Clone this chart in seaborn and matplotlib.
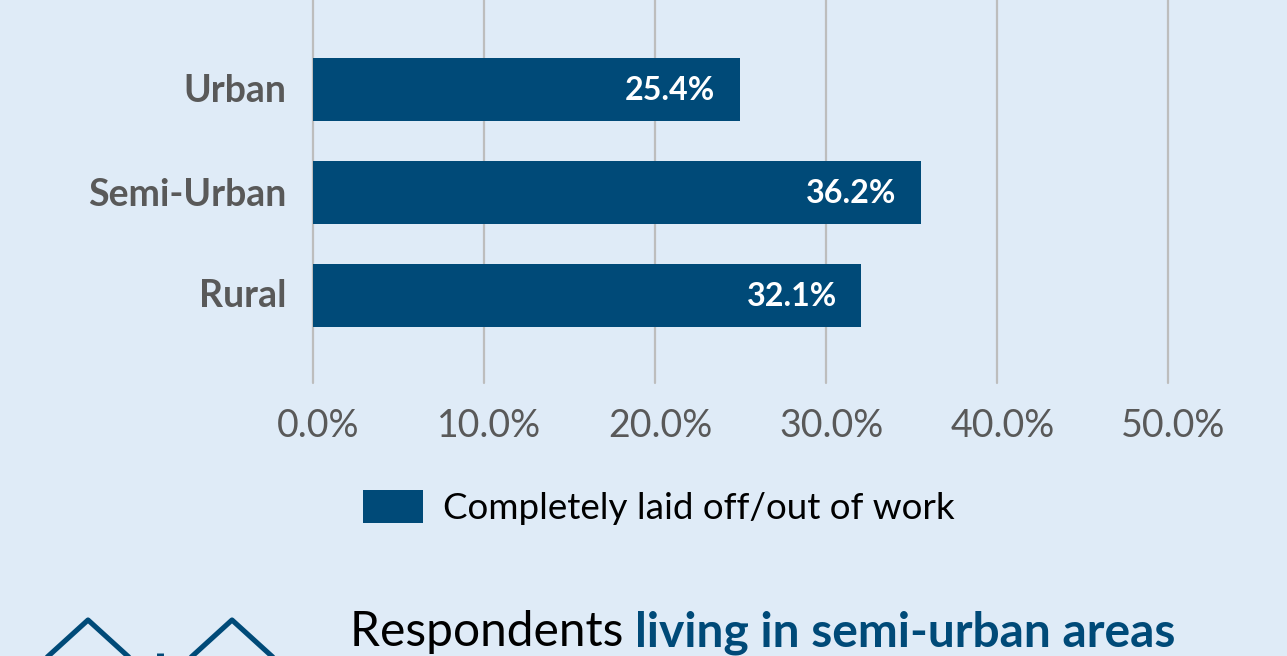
import matplotlib
matplotlib.use("Agg")
import matplotlib.pyplot as plt
from matplotlib.transforms import ScaledTranslation
import pandas as pd
import seaborn as sns

categories = ["Urban", "Semi-Urban", "Rural"]
values = [25.0, 35.6, 32.1]
value_labels = ["25.4%", "36.2%", "32.1%"]
ticks = [0, 10, 20, 30, 40, 50]
tick_labels = ["0.0%", "10.0%", "20.0%", "30.0%", "40.0%", "50.0%"]
legend_label = "Completely laid off/out of work"

BG = "#DFEBF7"
NAVY = "#004A78"
W, H = 1287, 656
sns.set_theme(style="white")
plt.rcParams["font.family"] = ["Lato", "DejaVu Sans"]
fig = plt.figure(figsize=(W / 100, H / 100), dpi=100, facecolor=BG)
x0, x1 = 312.5, 1167.5
ytop, ybot = 0, 383
ax = fig.add_axes([x0 / W, 1 - ybot / H, (x1 - x0) / W, (ybot - ytop) / H], facecolor=BG)
df = pd.DataFrame({"cat": categories, "val": values})
sns.barplot(data=df, y="cat", x="val", color=NAVY, saturation=1, width=0.612, linewidth=0, ax=ax, zorder=3)
ax.set_xlim(0, 50)
ax.set_ylim(2.85, -0.869)
ax.set_xlabel("")
ax.set_ylabel("")
ax.set_xticks(ticks, tick_labels)
ax.grid(axis="x", color="#BDBDBD", lw=1.6, zorder=0)
ax.grid(axis="y", visible=False)
for line in ax.get_xgridlines():
    line.set_clip_on(False)
for s in ax.spines.values():
    s.set_visible(False)
ax.tick_params(axis="x", length=0, labelsize=27, labelcolor="#595959", pad=18)
ax.tick_params(axis="y", length=0, labelsize=27, labelcolor="#595959", pad=19)
shift = ScaledTranslation(6 / 100, 0, fig.dpi_scale_trans)
for l in ax.get_xticklabels():
    l.set_transform(l.get_transform() + shift)
for l, dy in zip(ax.get_yticklabels(), (1, 0, 2)):
    l.set_fontweight("bold")
    l.set_transform(l.get_transform() + ScaledTranslation(0, dy / 100, fig.dpi_scale_trans))
for i, (v, t) in enumerate(zip(values, value_labels)):
    ax.annotate(t, (v, i), xytext=(-24.5, -1.5), textcoords="offset pixels", ha="right", va="center",
                color="white", fontsize=23.2, fontweight="bold", zorder=4)

fig.patches.append(plt.Rectangle((363 / W, 1 - 523 / H), 60 / W, 33 / H, transform=fig.transFigure, color=NAVY, lw=0))
fig.text(443 / W, 1 - 508.5 / H, legend_label, fontsize=26.5, color="black", va="center")

# partial caption at the bottom
fig.text(350.5 / W, 1 - 632.5 / H, "Respondents ", fontsize=34.5, color="black", va="center")
fig.text(635 / W, 1 - 632.5 / H, "living in semi-urban areas", fontsize=34.6, color=NAVY, fontweight="bold", va="center")

# cropped house icons at the bottom edge
ax2 = fig.add_axes([0, 0, 1, 1], facecolor="none")
ax2.set_xlim(0, W)
ax2.set_ylim(H, 0)
ax2.axis("off")
for cx in (88, 232):
    ax2.plot([cx - 44, cx, cx + 44], [660, 620, 660], color=NAVY, lw=3.7, solid_joinstyle="round")
ax2.plot([160, 160], [653, 660], color=NAVY, lw=5, solid_capstyle="butt")
fig.savefig("out.png", dpi=100, facecolor=BG)
